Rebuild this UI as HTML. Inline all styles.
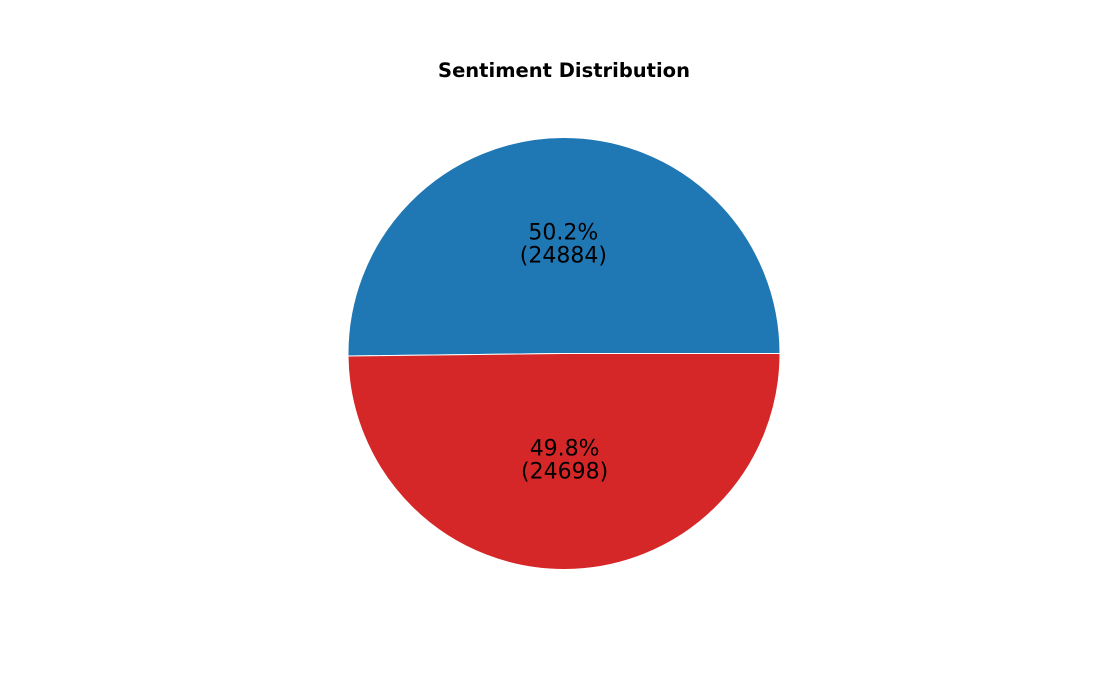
<!DOCTYPE html>
<html><head><meta charset="utf-8"><style>
body{margin:0;background:#fff;}
svg{display:block;font-family:"DejaVu Sans","Liberation Sans",sans-serif;}
</style></head><body>
<svg id="chart" width="1100" height="700">
<text x="564" y="77" text-anchor="middle" font-size="19.5" font-weight="bold">Sentiment Distribution</text>
<g id="slices"></g>
</svg>
<script>
const categories = ["Positive", "Negative"];
const counts = [24884, 24698];
const colors = ["#1f77b4", "#d62728"];
const cx = 564, cy = 353.5, r = 216, pct = 0.5;
const total = counts.reduce((a,b)=>a+b,0);
const g = document.getElementById('slices');
const ns = "http://www.w3.org/2000/svg";
let start = 0;
counts.forEach((v,i)=>{
  const frac = v/total;
  const end = start + frac*2*Math.PI;
  const x1 = cx + r*Math.cos(start), y1 = cy - r*Math.sin(start);
  const x2 = cx + r*Math.cos(end), y2 = cy - r*Math.sin(end);
  const large = frac > 0.5 ? 1 : 0;
  const p = document.createElementNS(ns,'path');
  p.setAttribute('d',`M${cx},${cy} L${x1},${y1} A${r},${r} 0 ${large} 0 ${x2},${y2} Z`);
  p.setAttribute('fill',colors[i]);
  p.setAttribute('stroke','#fff');
  p.setAttribute('stroke-width','1');
  
  
  g.appendChild(p);
  const mid = (start+end)/2;
  const lx = cx + pct*r*Math.cos(mid), ly = cy - pct*r*Math.sin(mid);
  const t = document.createElementNS(ns,'text');
  t.setAttribute('x',lx); t.setAttribute('text-anchor','middle');
  t.setAttribute('font-size','22');
  
  
  const a = document.createElementNS(ns,'tspan');
  a.setAttribute('x',lx); a.setAttribute('y',ly-6);
  a.textContent = (frac*100).toFixed(1)+'%';
  const b = document.createElementNS(ns,'tspan');
  b.setAttribute('x',lx); b.setAttribute('y',ly+17);
  b.textContent = '('+v+')';
  t.appendChild(a); t.appendChild(b);
  g.appendChild(t);
  start = end;
});
</script>
</body></html>
